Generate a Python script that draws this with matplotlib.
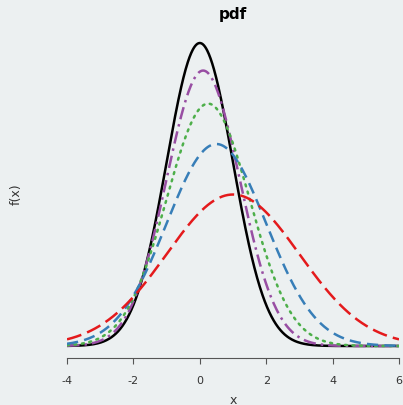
import matplotlib
matplotlib.use("Agg")
import matplotlib.pyplot as plt
import numpy as np

# normal parameters (mean, sd)
means = [0.0, 0.1, 0.25, 0.5, 1.0]
sds = [1.0, 1.1, 1.25, 1.5, 2.0]
colors = ["black", "#984EA3", "#4DAF4A", "#377EB8", "#E41A1C"]
styles = ["-", (0, (5, 2, 1, 2)), (0, (0.8, 2.2)), (0, (4.5, 2.5)), (0, (6, 2.5))]
xticks = [-4, -2, 0, 2, 4, 6]

bg = "#ECF0F1"
fig = plt.figure(figsize=(4.03, 4.06), dpi=100, facecolor=bg)
ax = fig.add_axes([67 / 403, 47 / 406, 332 / 403, 329 / 406], facecolor=bg)

x = np.linspace(-4, 6, 600)
for mu, sd, c, ls in zip(means, sds, colors, styles):
    y = np.exp(-0.5 * ((x - mu) / sd) ** 2) / (sd * np.sqrt(2 * np.pi))
    ax.plot(x, y, color=c, linestyle=ls, lw=1.8,
            dash_capstyle="round" if c == "#4DAF4A" else "butt")

ax.set_xlim(-4, 6)
ax.set_ylim(-0.0158, 0.4174)
ax.set_xticks(xticks)
ax.set_xticklabels([str(t) for t in xticks], fontsize=8, color="#333333")
ax.set_yticks([])
for s in ["top", "right", "left"]:
    ax.spines[s].set_visible(False)
ax.spines["bottom"].set_color("#555555")
ax.tick_params(axis="x", color="#555555", length=4, pad=8)
ax.set_xlabel("x", fontsize=9, color="#333333", labelpad=6)
ax.set_ylabel("f(x)", fontsize=9, color="#333333", labelpad=32)
ax.set_title("pdf", fontsize=11, fontweight="bold", pad=8)

fig.savefig("out.png", dpi=100, facecolor=bg)
